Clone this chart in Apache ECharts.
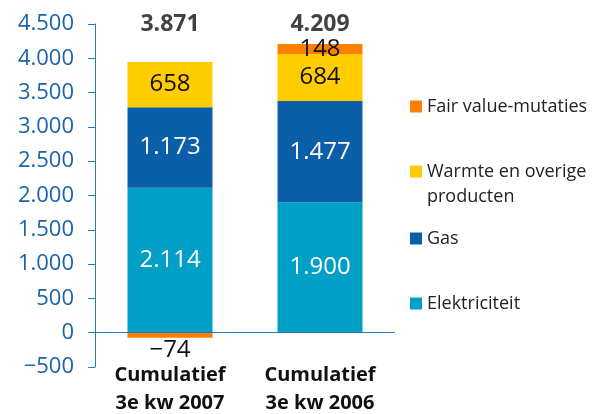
<!DOCTYPE html>
<html>
<head>
<meta charset="utf-8">
<script src="https://cdn.jsdelivr.net/npm/echarts@6/dist/echarts.min.js"></script>
<style>
  html, body { margin: 0; padding: 0; background: #fff; }
  #chart { width: 598px; height: 414px; }
</style>
</head>
<body>
<div id="chart"></div>
<script>
const categories = ['Cumulatief\n3e kw 2007', 'Cumulatief\n3e kw 2006'];
const elektriciteit = [2114, 1900];
const gas = [1173, 1477];
const warmte = [658, 684];
const fairValue = [-74, 148];
const totals = [3871, 4209];

const FONT = 'Open Sans';
const AXIS_BLUE = '#2f78bd';

function nl(v) {
  const s = String(Math.abs(v)).replace(/\B(?=(\d{3})+(?!\d))/g, '.');
  return (v < 0 ? '\u2212' : '') + s;
}

const chart = echarts.init(document.getElementById('chart'));

function segment(name, data, color, textColor) {
  return {
    name: name,
    type: 'bar',
    stack: 'total',
    barWidth: 85,
    data: data,
    itemStyle: { color: color },
    label: {
      show: true,
      position: 'inside',
      color: textColor,
      fontFamily: FONT,
      fontSize: 24,
      formatter: p => nl(p.value)
    }
  };
}

function legendItem(name, top, formatter) {
  return {
    data: [name],
    left: 405,
    top: top,
    orient: 'vertical',
    icon: 'rect',
    itemWidth: 12,
    itemHeight: 12,
    itemGap: 0,
    formatter: formatter || '{name}',
    textStyle: { fontFamily: FONT, fontSize: 18, color: '#222', lineHeight: 25 }
  };
}

const option = {
  animation: false,
  grid: { left: 95, right: 203, top: 24, bottom: 47, outerBoundsMode: 'none', containLabel: false },
  legend: [
    legendItem('Fair value-mutaties', 89),
    legendItem('Warmte en overige producten', 129, () => '\nWarmte en overige\nproducten'),
    legendItem('Gas', 221),
    legendItem('Elektriciteit', 286)
  ],
  xAxis: {
    type: 'category',
    data: categories,
    axisLine: { show: false, onZero: false },
    axisTick: { show: false },
    axisLabel: {
      margin: -6,
      color: '#111',
      fontFamily: FONT,
      fontWeight: 'bold',
      fontSize: 20,
      lineHeight: 28
    }
  },
  yAxis: {
    type: 'value',
    min: -500,
    max: 4500,
    interval: 500,
    splitLine: { show: false },
    axisLine: { show: true, lineStyle: { color: AXIS_BLUE, width: 1 } },
    axisTick: { show: true, length: 7, lineStyle: { color: AXIS_BLUE } },
    axisLabel: {
      margin: 21,
      color: '#1a62aa',
      fontFamily: FONT,
      fontSize: 22,
      formatter: v => nl(v)
    }
  },
  series: [
    Object.assign(segment('Elektriciteit', elektriciteit, '#00a0c6', '#fff'), {
      markLine: {
        silent: true,
        symbol: 'none',
        label: { show: false },
        lineStyle: { color: AXIS_BLUE, type: 'solid', width: 1 },
        data: [{ yAxis: 0 }]
      }
    }),
    segment('Gas', gas, '#0b5ea8', '#fff'),
    segment('Warmte en overige producten', warmte, '#ffcc00', '#111'),
    segment('Fair value-mutaties',
      fairValue.map(v => v < 0 ? { value: v, label: { position: 'bottom', distance: 0 } } : v),
      '#ff7f00', '#111'),
    {
      name: 'Totaal',
      type: 'scatter',
      symbolSize: 0,
      data: totals.map(() => 4500),
      label: {
        show: true,
        position: 'inside',
        color: '#111',
        fontFamily: FONT,
        fontWeight: 'bold',
        fontSize: 23,
        formatter: p => nl(totals[p.dataIndex])
      }
    }
  ]
};

chart.setOption(option);

window.addEventListener('resize', function() {
  chart.resize();
});
</script>
</body>
</html>
